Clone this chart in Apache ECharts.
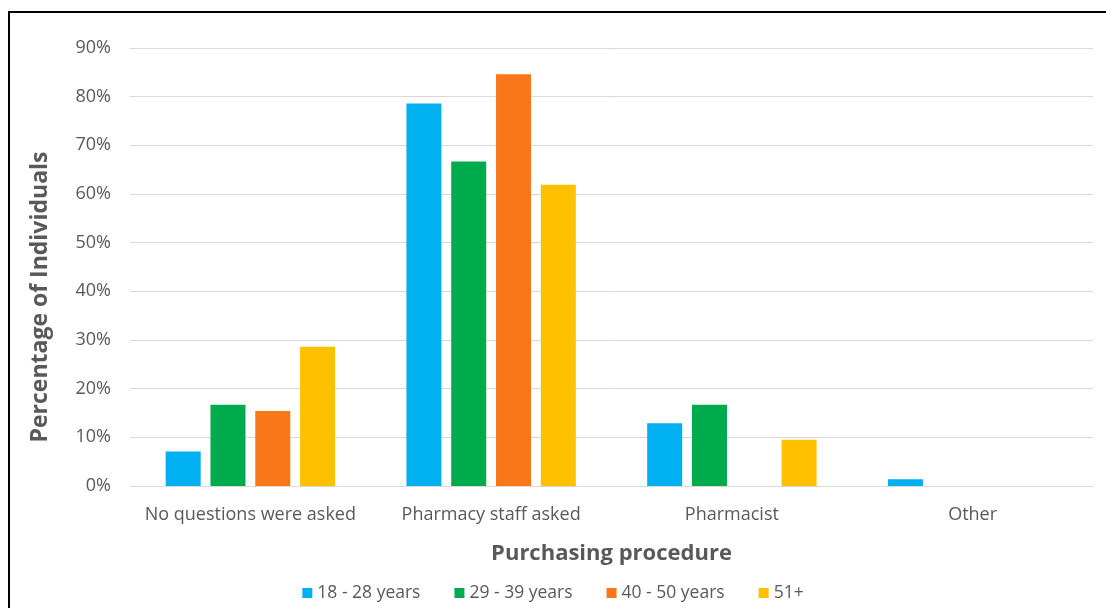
<!DOCTYPE html>
<html>
<head>
<meta charset="utf-8">
<style>
  html, body { margin: 0; padding: 0; background: #fff; }
  #chart { width: 1106px; height: 608px; }
</style>
<script src="https://cdn.jsdelivr.net/npm/echarts@6/dist/echarts.min.js"></script>
</head>
<body>
<div id="chart"></div>
<script>
// Purchasing procedure categories
const categories = ['No questions were asked', 'Pharmacy staff asked', 'Pharmacist', 'Other'];

// Age groups and their percentages per category
const ageGroups = ['18 - 28 years', '29 - 39 years', '40 - 50 years', '51+'];
const age18to28 = [7.1, 78.6, 12.9, 1.4];
const age29to39 = [16.7, 66.7, 16.7, 0];
const age40to50 = [15.4, 84.6, 0, 0];
const age51plus = [28.6, 61.9, 9.5, 0];

const yTicks = [0, 10, 20, 30, 40, 50, 60, 70, 80, 90];

const colors = ['#00B0F0', '#00AB4E', '#F97619', '#FFC000'];
const seriesValues = [age18to28, age29to39, age40to50, age51plus];

const textColor = '#595959';
const fontFamily = 'Open Sans, Liberation Sans, sans-serif';

const chart = echarts.init(document.getElementById('chart'), null, { renderer: 'canvas' });

chart.setOption({
  animation: false,
  color: colors,
  textStyle: { fontFamily: fontFamily },
  grid: { left: 130, right: 13, top: 48, bottom: 122 },
  legend: {
    bottom: 1,
    left: 'center',
    itemWidth: 10,
    itemHeight: 10,
    itemGap: 34,
    icon: 'rect',
    textStyle: { color: textColor, fontSize: 17.5, fontFamily: fontFamily },
    data: ageGroups
  },
  xAxis: {
    type: 'category',
    data: categories,
    name: 'Purchasing procedure',
    nameLocation: 'middle',
    nameGap: 57,
    nameTextStyle: { color: textColor, fontSize: 22, fontWeight: 'bold', fontFamily: fontFamily },
    axisLine: { lineStyle: { color: '#d9d9d9', width: 1 } },
    axisTick: { show: false },
    axisLabel: { color: textColor, fontSize: 18, margin: 20, interval: 0 }
  },
  yAxis: {
    type: 'value',
    min: yTicks[0],
    max: yTicks[yTicks.length - 1],
    interval: 10,
    axisLine: { show: false },
    axisTick: { show: false },
    splitLine: { lineStyle: { color: '#d9d9d9', width: 1 } },
    axisLabel: { color: textColor, fontSize: 18, margin: 19, formatter: '{value}%' }
  },
  series: ageGroups.map((name, i) => ({
    name: name,
    type: 'bar',
    data: seriesValues[i],
    barWidth: 35,
    barGap: '28%',
    itemStyle: { color: colors[i] }
  })),
  graphic: [
    // vertical axis title, sitting a little below the plot's midpoint
    {
      type: 'text',
      silent: true,
      x: 40,
      y: 297,
      rotation: Math.PI / 2,
      style: {
        text: 'Percentage of Individuals',
        fill: textColor,
        font: 'bold 23px ' + fontFamily,
        align: 'center',
        verticalAlign: 'middle'
      }
    },
    // frame lines on the left and top
    {
      type: 'polyline',
      silent: true,
      shape: { points: [[9, 608], [9, 12], [1106, 12]] },
      style: { stroke: '#000', lineWidth: 2, fill: null }
    }
  ]
});
</script>
</body>
</html>
